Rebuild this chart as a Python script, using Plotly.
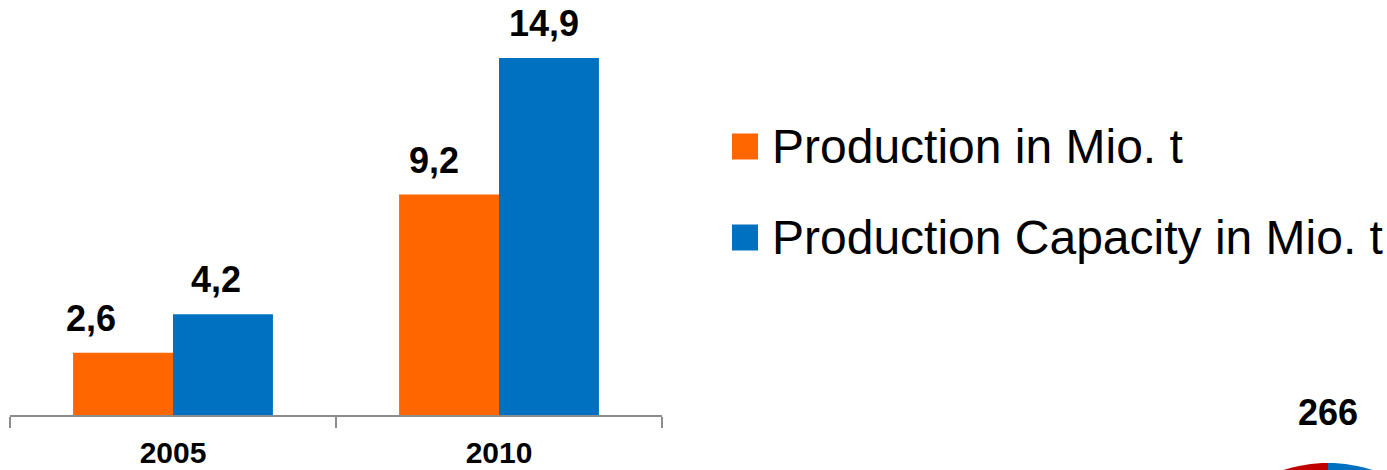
import numpy as np
import plotly.graph_objects as go

# ---- data ----
years = ["2005", "2010"]
production = [2.6, 9.2]
capacity = [4.2, 14.9]
production_labels = ["2,6", "9,2"]
capacity_labels = ["4,2", "14,9"]
series_names = ["Production in Mio. t", "Production Capacity in Mio. t"]
pie_label = "266"

# ---- styles ----
W, H = 1387, 470
ORANGE = "#FF6600"
BLUE = "#0070C0"
RED = "#C00000"
FONT = "Liberation Sans, Arial, sans-serif"

def px_x(x):
    return x / W

def px_y(y):
    return 1 - y / H

fig = go.Figure()
fig.add_trace(go.Bar(x=years, y=production, name=series_names[0],
                     marker=dict(color=ORANGE, line=dict(width=0)), showlegend=False))
fig.add_trace(go.Bar(x=years, y=capacity, name=series_names[1],
                     marker=dict(color=BLUE, line=dict(width=0)), showlegend=False))

# data labels (above bars)
half = 0.1534
nudges = [[-32, -15], [-7, -5]]  # manual label placement in pixels
for s, (vals, labs) in enumerate([(production, production_labels), (capacity, capacity_labels)]):
    off = -half if s == 0 else half
    for i, (v, lab) in enumerate(zip(vals, labs)):
        fig.add_annotation(x=i + off, y=v, xref="x", yref="y", text=f"<b>{lab}</b>",
                           showarrow=False, xanchor="center", yanchor="bottom",
                           yshift=12, xshift=nudges[s][i],
                           font=dict(family=FONT, size=36, color="black"))

# legend (text + squares)
legend_rows = [(146.5, ORANGE), (237.5, BLUE)]
for (cy, col), name in zip(legend_rows, series_names):
    fig.add_shape(type="rect", xref="paper", yref="paper",
                  x0=px_x(732), x1=px_x(758), y0=px_y(cy - 13), y1=px_y(cy + 13),
                  fillcolor=col, line=dict(width=0))
    fig.add_annotation(x=px_x(770), y=px_y(cy), xref="paper", yref="paper", text=name,
                       showarrow=False, xanchor="left", yanchor="middle",
                       font=dict(family=FONT, size=48, color="black"))

# fragment of a neighbouring pie chart (cropped at bottom right)
cx, cy, R = 1328, 608, 145
th_l = np.linspace(np.pi / 2, np.pi, 40)
th_r = np.linspace(0, np.pi / 2, 40)
def pie_path(th):
    pts = [(cx, cy)] + [(cx + R * np.cos(t), cy - R * np.sin(t)) for t in th]
    return "M " + " L ".join(f"{px_x(x):.5f},{px_y(y):.5f}" for x, y in pts) + " Z"
fig.add_shape(type="path", xref="paper", yref="paper", path=pie_path(th_l),
              fillcolor=RED, line=dict(width=0))
fig.add_shape(type="path", xref="paper", yref="paper", path=pie_path(th_r),
              fillcolor=BLUE, line=dict(width=0))
fig.add_annotation(x=px_x(1328), y=px_y(412.5), xref="paper", yref="paper",
                   text=f"<b>{pie_label}</b>", showarrow=False, xanchor="center",
                   yanchor="middle", font=dict(family=FONT, size=36, color="black"))

fig.update_layout(
    width=W, height=H,
    margin=dict(l=0, r=0, t=0, b=0),
    paper_bgcolor="white", plot_bgcolor="white",
    barmode="group", bargap=0.387, bargroupgap=0,
    showlegend=False,
    xaxis=dict(domain=[px_x(10), px_x(662)], type="category", range=[-0.5, 1.5],
               showline=True, linecolor="#8c8c8c", linewidth=1.5,
               ticks="outside", ticklen=11, tickcolor="#8c8c8c", tickwidth=1.5,
               tickson="boundaries", showgrid=False, zeroline=False,
               ticklabelstandoff=10,
               tickfont=dict(family=FONT, size=30, color="black"),
               tickprefix="<b>", ticksuffix="</b>"),
    yaxis=dict(domain=[1 - 415 / H, 1], range=[0, 415 / 23.96], visible=False,
               showgrid=False, zeroline=False),
)

fig.write_html("out.html")
